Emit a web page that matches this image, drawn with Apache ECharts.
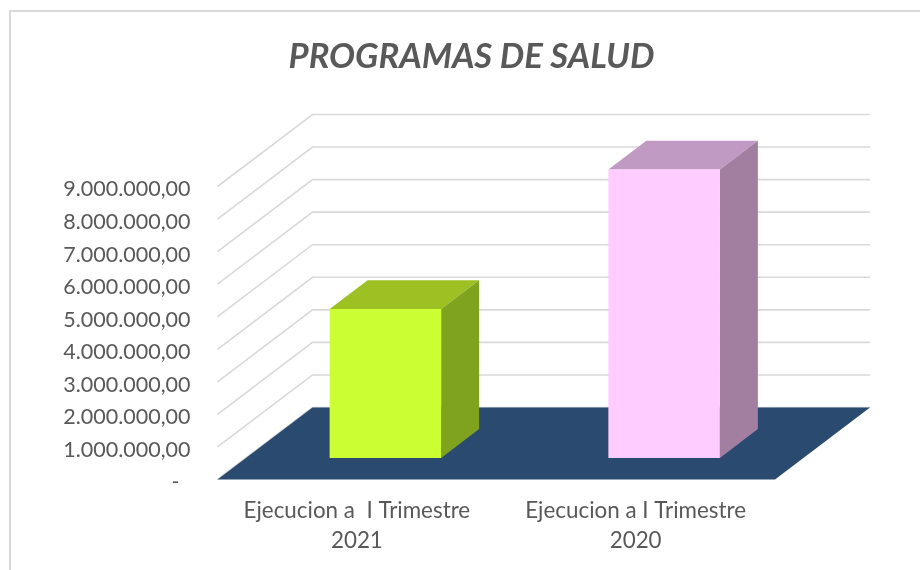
<!DOCTYPE html>
<html>
<head>
<meta charset="utf-8">
<style>html,body{margin:0;padding:0;background:#fff}#c{width:920px;height:570px}</style>
<script src="https://cdn.jsdelivr.net/npm/echarts@6/dist/echarts.min.js"></script>
</head>
<body>
<div id="c"></div>
<script>
const titleText = 'PROGRAMAS DE SALUD';
const categories = ['Ejecucion a  I Trimestre\n2021', 'Ejecucion a I Trimestre\n2020'];
const values = [4570000, 8860000];
const tickValues = [0, 1000000, 2000000, 3000000, 4000000, 5000000, 6000000, 7000000, 8000000, 9000000];
const tickLabels = ['-  ', '1.000.000,00', '2.000.000,00', '3.000.000,00', '4.000.000,00', '5.000.000,00', '6.000.000,00', '7.000.000,00', '8.000.000,00', '9.000.000,00'];
const frontColors = ['#ccff33', '#ffccff'];
const topColors = ['#9dc022', '#c09ac2'];
const sideColors = ['#7fa31e', '#a27fa0'];

const DX = 95, DY = 72;            // depth of the 3D floor in pixels
const FONT = 'Lato, sans-serif';

const chart = echarts.init(document.getElementById('c'), null, {renderer: 'canvas'});

function poly(points, color, extra) {
  return Object.assign({type: 'polygon', shape: {points}, style: {fill: color}}, extra || {});
}

chart.setOption({
  animation: false,
  backgroundColor: '#ffffff',
  title: {
    text: titleText, left: 466.5, top: 34, textAlign: 'center',
    textStyle: {fontFamily: FONT, fontSize: 34.6, fontWeight: 'bold', fontStyle: 'italic', color: '#595959'}
  },
  graphic: [{
    type: 'rect', silent: true, z: -10,
    shape: {x: 10, y: 11, width: 960, height: 600},
    style: {fill: 'none', stroke: '#d9d9d9', lineWidth: 2}
  }],
  grid: {left: 217.5, right: 145, top: 186.5, bottom: 90.5, containLabel: false},
  xAxis: {
    type: 'category', data: categories,
    axisLine: {show: false}, axisTick: {show: false},
    axisLabel: {color: '#595959', fontFamily: FONT, fontSize: 22.4, lineHeight: 30, margin: 16, interval: 0}
  },
  yAxis: {
    type: 'value', min: 0, max: 9000000, interval: 1000000,
    axisLine: {show: false}, axisTick: {show: false}, splitLine: {show: false},
    axisLabel: {
      color: '#595959', fontFamily: FONT, fontSize: 21.5, margin: 27, verticalAlign: 'top', lineHeight: 6,
      formatter: v => tickLabels[tickValues.indexOf(v)]
    }
  },
  tooltip: {show: false},
  series: [
    {
      // back wall + side wall gridlines
      type: 'custom', z: 1, silent: true,
      data: tickValues.map(v => [0, v]),
      encode: {x: 0, y: 1},
      renderItem(params, api) {
        const p = api.coord([0, api.value(1)]);
        const x0 = params.coordSys.x;
        const x1 = params.coordSys.x + params.coordSys.width;
        return {
          type: 'polyline',
          shape: {points: [[x0, p[1]], [x0 + DX, p[1] - DY], [x1 + DX, p[1] - DY]]},
          style: {fill: 'none', stroke: '#d9d9d9', lineWidth: 1.6}
        };
      }
    },
    {
      // floor at value 0
      type: 'custom', z: 2, silent: true,
      data: [[0, 0]],
      encode: {x: 0, y: 1},
      renderItem(params, api) {
        const y = api.coord([0, api.value(1)])[1];
        const x0 = params.coordSys.x;
        const x1 = params.coordSys.x + params.coordSys.width;
        return poly([[x0, y], [x1, y], [x1 + DX, y - DY], [x0 + DX, y - DY]], '#2b4a70');
      }
    },
    {
      // 3D columns
      type: 'custom', z: 3,
      data: values.map((v, i) => [i, v]),
      encode: {x: 0, y: 1},
      renderItem(params, api) {
        const i = api.value(0);
        const top = api.coord([i, api.value(1)]);
        const base = api.coord([i, 0]);
        const w = api.size([1, 0])[0] * 0.4;
        const fx = DX * 0.3, fy = DY * 0.3;   // gap from the floor's front edge
        const bx = DX * 0.4, by = DY * 0.4;   // depth of the column
        const l = top[0] + fx - w / 2, r = l + w;
        const t = top[1] - fy, b = base[1] - fy;
        return {
          type: 'group',
          children: [
            poly([[l, t], [r, t], [r + bx, t - by], [l + bx, t - by]], topColors[i]),
            poly([[r, t], [r + bx, t - by], [r + bx, b - by], [r, b]], sideColors[i]),
            poly([[l, t], [r, t], [r, b], [l, b]], frontColors[i])
          ]
        };
      }
    }
  ]
});
</script>
</body>
</html>
